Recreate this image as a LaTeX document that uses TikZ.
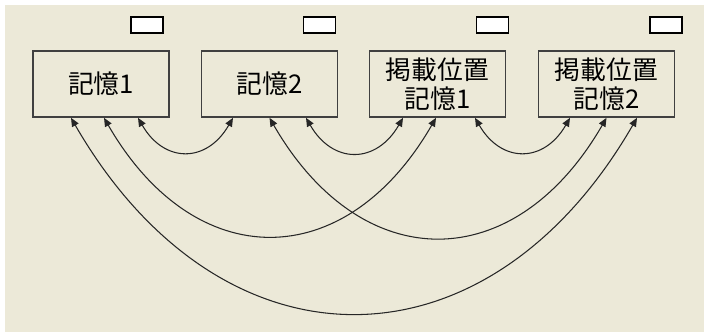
\documentclass[tikz,border=0pt]{standalone}
\usepackage{fontspec}
\newfontfamily\jpfont{Noto Sans CJK JP}
\usetikzlibrary{arrows.meta}
\usetikzlibrary{calc}

\definecolor{amosbg}{HTML}{ECE9D8}

\begin{document}
\begin{tikzpicture}[x=0.03cm,y=-0.03cm,
		obs/.style={draw=black!75,line width=1.4pt,fill=amosbg,minimum width=4.08cm,minimum height=1.98cm,inner sep=0pt,align=center,font=\jpfont\fontsize{22}{25}\selectfont},
		err/.style={draw=black,line width=0.9pt,fill=white,minimum width=0.96cm,minimum height=0.48cm,inner sep=0pt},
		cov/.style={line width=0.9pt,black!85,{Triangle[length=0.26cm,width=0.22cm]}-{Triangle[length=0.26cm,width=0.22cm]}}]
			
			% 背景
			\useasboundingbox (0,0) rectangle (704,334);
			\fill[amosbg] (5,5) rectangle (704,332);
			
			% 绘制观测变量
			\node[obs] (mem1) at (101,84) {記憶1};
			\node[obs] (mem2) at (269.5,84) {記憶2};
			\node[obs] (pos1) at (437.5,84) {掲載位置\\記憶1};
			\node[obs] (pos2) at (606.5,84) {掲載位置\\記憶2};
			
			% 小方框
			\node[err] (e1) at (147,25) {};
			\node[err] (e2) at (319.5,25) {};
			\node[err] (e3) at (492.5,25) {};
			\node[err] (e4) at (666,25) {};
			
			% 计算连接点
			\coordinate (mem1L) at ($(mem1.south)+(-30,0)$);
			\coordinate (mem1M) at ($(mem1.south)+(3,0)$);
			\coordinate (mem1R) at ($(mem1.south)+(37,0)$);
			\coordinate (mem2L) at ($(mem2.south)+(-36.5,0)$);
			\coordinate (mem2M) at ($(mem2.south)+(0,0)$);
			\coordinate (mem2R) at ($(mem2.south)+(36.5,0)$);
			\coordinate (pos1L) at ($(pos1.south)+(-34.5,0)$);
			\coordinate (pos1M) at ($(pos1.south)+(-1.5,0)$);
			\coordinate (pos1R) at ($(pos1.south)+(37.5,0)$);
			\coordinate (pos2L) at ($(pos2.south)+(-36.5,0)$);
			\coordinate (pos2M) at ($(pos2.south)+(0,0)$);
			\coordinate (pos2R) at ($(pos2.south)+(30.5,0)$);
			
			% 绘制协方差弧线
			\draw[cov] (mem1R) to[out=-60,in=-120,looseness=1.42] (mem2L);
			\draw[cov] (mem2R) to[out=-60,in=-120,looseness=1.42] (pos1L);
			\draw[cov] (pos1R) to[out=-60,in=-120,looseness=1.42] (pos2L);
			\draw[cov] (mem1M) to[out=-60,in=-120,looseness=1.4] (pos1M);
			\draw[cov] (mem2M) to[out=-60,in=-120,looseness=1.4] (pos2M);
			\draw[cov] (mem1L) to[out=-60,in=-120,looseness=1.36] (pos2R);
			
		\end{tikzpicture}
\end{document}
